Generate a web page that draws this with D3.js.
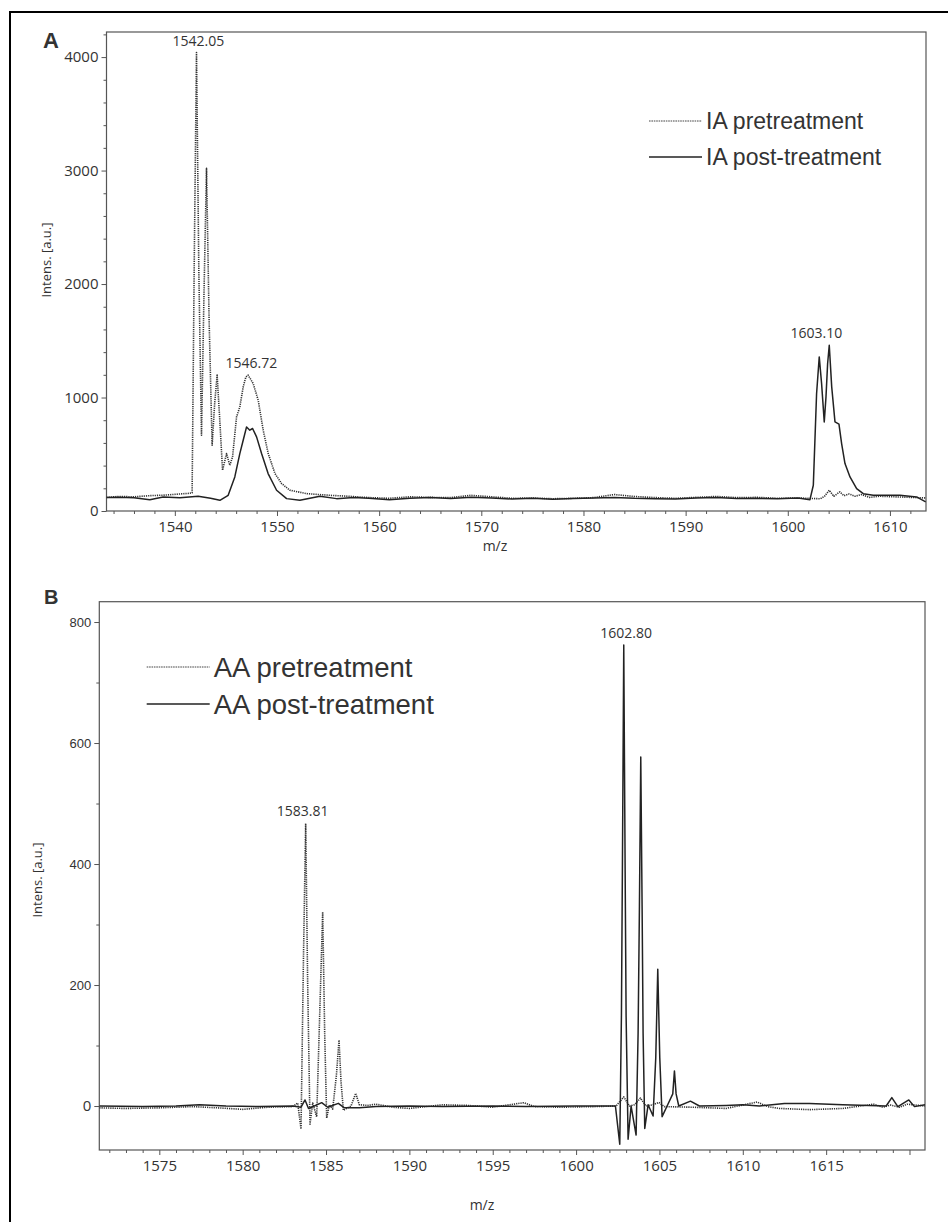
<!DOCTYPE html>
<html>
<head>
<meta charset="utf-8">
<script src="https://cdn.jsdelivr.net/npm/d3@7/dist/d3.min.js"></script>
<style>
  body { margin: 0; background: #fff; }
  svg text { font-family: "Open Sans", sans-serif; fill: #333; }
</style>
</head>
<body>
<svg id="chart" width="948" height="1222"></svg>
<script>
// ---- data, [m/z, intensity] ----
const iaPre = [
  [1533.3, 120], [1534.5, 128], [1536, 125], [1537.5, 135], [1539, 140], [1540.5, 150],
  [1541.3, 155], [1541.69, 160], [1541.9, 2200], [1542.12, 4040], [1542.35, 2100],
  [1542.61, 667], [1542.85, 1900], [1543.1, 3019], [1543.35, 1700], [1543.65, 579],
  [1543.9, 950], [1544.14, 1197], [1544.4, 800], [1544.67, 359], [1545.06, 506],
  [1545.38, 403], [1545.65, 476], [1546.04, 829], [1546.36, 917], [1546.69, 1093],
  [1546.95, 1180], [1547.18, 1197], [1547.67, 1123], [1548.16, 976], [1548.65, 712],
  [1549.14, 506], [1549.8, 330], [1550.45, 242], [1551.26, 183], [1552.9, 153],
  [1555.2, 138], [1557, 130], [1559, 118], [1561, 112], [1563, 125], [1565, 120],
  [1567, 118], [1569, 138], [1571, 125], [1573, 112], [1575, 115], [1577, 108],
  [1579, 112], [1581, 118], [1583, 145], [1585, 128], [1587, 118], [1589, 112],
  [1591, 120], [1593, 128], [1595, 118], [1597, 120], [1599, 112], [1601, 115],
  [1602.5, 110], [1603.2, 108], [1603.6, 130], [1604.06, 183], [1604.5, 130],
  [1605.1, 168], [1605.5, 135], [1606, 150], [1606.6, 130], [1607.2, 145], [1608, 120],
  [1609, 130], [1610.5, 125], [1612, 120], [1613.5, 115]
];

const iaPost = [
  [1533.3, 118], [1534.5, 122], [1536, 116], [1537.55, 100], [1538.85, 124], [1540.5, 116],
  [1542.28, 130], [1543.5, 112], [1544.41, 94], [1545.22, 138], [1545.87, 300],
  [1546.36, 506], [1546.69, 623], [1547.02, 741], [1547.34, 712], [1547.61, 727],
  [1548.0, 653], [1548.49, 506], [1549.13, 330], [1549.96, 183], [1550.94, 109],
  [1552.24, 94], [1554.2, 130], [1555.83, 109], [1557.5, 118], [1559, 112], [1561, 100],
  [1563, 112], [1565, 118], [1567, 110], [1569, 122], [1571, 115], [1573, 105],
  [1575, 112], [1577, 104], [1579, 110], [1581, 115], [1583, 120], [1585, 112],
  [1587, 108], [1589, 105], [1591, 115], [1593, 118], [1595, 110], [1597, 112],
  [1599, 108], [1601, 115], [1602.17, 100], [1602.5, 227], [1602.82, 1035],
  [1603.08, 1358], [1603.31, 1123], [1603.57, 785], [1603.74, 1006], [1603.9, 1300],
  [1604.06, 1461], [1604.3, 1094], [1604.62, 785], [1605.01, 765], [1605.27, 594],
  [1605.6, 418], [1606.09, 300], [1606.74, 198], [1607.39, 153], [1608.37, 138],
  [1609.68, 138], [1610.98, 138], [1612.61, 124], [1613.5, 80]
];

const aaPre = [
  [1571.4, -3], [1573, -4], [1575, -3], [1577, -1], [1578.5, -3], [1580, -5.5],
  [1581.5, -2], [1583, -1], [1583.3, 5], [1583.5, -38], [1583.65, 250], [1583.78, 467],
  [1583.9, 200], [1584.04, -30], [1584.2, 5], [1584.44, -18], [1584.62, 150],
  [1584.8, 321], [1584.92, 120], [1585.04, -20], [1585.2, 2], [1585.4, -5],
  [1585.62, 50], [1585.78, 109], [1585.9, 40], [1586.04, -7], [1586.5, 0],
  [1586.78, 21], [1587.0, 2], [1587.5, 1], [1588, 3], [1589, -2], [1590, -4],
  [1592, 2], [1593.5, 1], [1595, -2], [1596.86, 5.5], [1597.5, -1], [1599, -2],
  [1601, -1], [1602.4, 0], [1602.86, 15], [1603.2, 0], [1603.5, 2], [1603.86, 13],
  [1604.2, 0], [1604.6, 2], [1604.96, 6], [1605.3, -1], [1607, -2], [1609, -4],
  [1610.86, 6.6], [1611.5, -1], [1612.2, -4], [1614, -6], [1615, -5], [1616, -4],
  [1617.86, 3], [1618.4, -2], [1618.86, 1.5], [1619.4, -2], [1619.86, 3], [1620.93, 0]
];

const aaPost = [
  [1571.4, 0], [1574, -1], [1576, 0], [1577.4, 2], [1579, 0], [1581, -1], [1583, 0],
  [1583.5, -2], [1583.74, 10], [1583.95, -4], [1584.3, 0], [1584.74, 5.5],
  [1585.1, -2], [1585.74, 4.4], [1586.1, -3], [1587, -3], [1588, -1], [1590, 0],
  [1592, -1], [1595, 0], [1597, -1], [1600, 0], [1602.36, 0], [1602.62, -63],
  [1602.72, 150], [1602.78, 400], [1602.86, 762], [1602.94, 400], [1603.0, 150],
  [1603.12, -55], [1603.3, 0], [1603.6, -48], [1603.72, 120], [1603.8, 330],
  [1603.88, 577], [1603.96, 330], [1604.02, 120], [1604.12, -37], [1604.32, 2],
  [1604.62, -16.5], [1604.78, 80], [1604.9, 226], [1605.02, 80], [1605.16, -17.6],
  [1605.46, 0], [1605.8, 20], [1605.9, 58], [1606.0, 20], [1606.16, 0], [1606.86, 8],
  [1607.4, 0], [1609, 1], [1610, 2], [1611, 0], [1612.5, 4], [1614, 4], [1616, 2],
  [1618.6, 0], [1618.94, 14], [1619.3, -1], [1619.96, 10], [1620.3, -1], [1620.93, 2]
];

// axis ticks
const xMajorA = [1540, 1550, 1560, 1570, 1580, 1590, 1600, 1610];
const yMajorA = [0, 1000, 2000, 3000, 4000];
const xMajorB = [1575, 1580, 1585, 1590, 1595, 1600, 1605, 1610, 1615, 1620];
const yMajorB = [0, 200, 400, 600, 800];

// peak annotations
const peaksA = [
  { label: "1542.05", mz: 1542.3, value: 4040 },
  { label: "1546.72", mz: 1547.5, value: 1197 },
  { label: "1603.10", mz: 1602.8, value: 1461 }
];
const peaksB = [
  { label: "1583.81", mz: 1583.6, value: 467 },
  { label: "1602.80", mz: 1603.0, value: 762 }
];

const svg = d3.select("#chart");

// outer frame (right / bottom edges fall off the picture)
svg.append("rect")
  .attr("x", 10).attr("y", 12)
  .attr("width", 960).attr("height", 1240)
  .attr("fill", "none").attr("stroke", "#000").attr("stroke-width", 2);

const spectrumPanel = (selection, props) => {
  const { id, box, xDomain, yDomain, xMajor, xMinor, yMajor, yMinor,
    xHide, series, peaks, legend, letter, yTickFont, xLabelPos, yLabelPos } = props;

  const x = d3.scaleLinear().domain(xDomain).range([box.left, box.right]);
  const y = d3.scaleLinear().domain(yDomain).range([box.bottom, box.top]);

  const g = selection.append("g").attr("class", "panel-" + id);

  g.append("clipPath").attr("id", "clip-" + id)
    .append("rect")
    .attr("x", box.left).attr("y", box.top)
    .attr("width", box.right - box.left).attr("height", box.bottom - box.top);

  // minor ticks
  g.append("g")
    .attr("transform", `translate(0,${box.bottom})`)
    .call(d3.axisBottom(x).tickValues(xMinor).tickSize(3).tickFormat(""))
    .call((a) => a.select(".domain").remove());
  g.append("g")
    .attr("transform", `translate(${box.left},0)`)
    .call(d3.axisLeft(y).tickValues(yMinor).tickSize(3).tickFormat(""))
    .call((a) => a.select(".domain").remove());

  // major ticks
  const xAxisG = g.append("g")
    .attr("transform", `translate(0,${box.bottom})`)
    .call(d3.axisBottom(x).tickValues(xMajor).tickSize(5).tickPadding(5)
      .tickFormat((d) => (xHide.includes(d) ? "" : d3.format("d")(d))));
  xAxisG.select(".domain").remove();
  xAxisG.selectAll("text").style("font-size", "15px").attr("fill", "#333");

  const yAxisG = g.append("g")
    .attr("transform", `translate(${box.left},0)`)
    .call(d3.axisLeft(y).tickValues(yMajor).tickSize(5).tickPadding(3)
      .tickFormat(d3.format("d")));
  yAxisG.select(".domain").remove();
  yAxisG.selectAll("text")
    .style("font-size", (d) => (d === 0 ? "15px" : yTickFont.size))
    .style("font-family", (d) => (d === 0 ? "Open Sans" : yTickFont.family))
    .attr("fill", "#333");

  g.selectAll(".tick line").attr("stroke", "#555");

  // frame
  g.append("rect")
    .attr("x", box.left).attr("y", box.top)
    .attr("width", box.right - box.left).attr("height", box.bottom - box.top)
    .attr("fill", "none").attr("stroke", "#555").attr("stroke-width", 1.2);

  // spectra
  const line = d3.line().x((d) => x(d[0])).y((d) => y(d[1]));
  g.append("g").attr("clip-path", `url(#clip-${id})`)
    .selectAll("path")
    .data(series)
    .enter()
    .append("path")
    .attr("d", (s) => line(s.values))
    .attr("fill", "none")
    .attr("stroke", (s) => (s.dashed ? "#333" : "#222"))
    .attr("stroke-width", (s) => (s.dashed ? 1.6 : 1.5))
    .attr("stroke-dasharray", (s) => (s.dashed ? "1.2,1" : null))
    .attr("stroke-linejoin", "round");

  // peak labels
  g.selectAll(".peak")
    .data(peaks)
    .enter()
    .append("text")
    .attr("class", "peak")
    .attr("x", (d) => x(d.mz))
    .attr("y", (d) => y(d.value) - 7)
    .attr("text-anchor", "middle")
    .style("font-size", "14px")
    .text((d) => d.label);

  // axis titles
  g.append("text")
    .attr("x", xLabelPos[0]).attr("y", xLabelPos[1])
    .attr("text-anchor", "middle")
    .style("font-size", "14px")
    .text("m/z");
  g.append("text")
    .attr("transform", `translate(${yLabelPos[0]},${yLabelPos[1]}) rotate(-90)`)
    .attr("text-anchor", "middle")
    .style("font-size", "13px")
    .text("Intens. [a.u.]");

  // legend
  const lg = g.append("g");
  legend.items.forEach((item, i) => {
    const ly = legend.y + i * legend.step;
    lg.append("line")
      .attr("x1", legend.x).attr("x2", legend.x + legend.len)
      .attr("y1", ly).attr("y2", ly)
      .attr("stroke", item.dashed ? "#444" : "#222")
      .attr("stroke-width", item.dashed ? 1 : 1.3)
      .attr("stroke-dasharray", item.dashed ? "1.6,0.8" : null);
    lg.append("text")
      .attr("x", legend.x + legend.len + 4)
      .attr("y", ly)
      .attr("dy", "0.35em")
      .style("font-family", "'Liberation Sans', Arial, sans-serif")
      .style("font-size", legend.size)
      .attr("fill", "#111")
      .text(item.name);
  });

  // panel letter
  g.append("text")
    .attr("x", letter.x).attr("y", letter.y)
    .style("font-family", "'Liberation Sans', Arial, sans-serif")
    .style("font-weight", "bold")
    .style("font-size", letter.size)
    .attr("fill", "#000")
    .text(letter.text);
};

// minor tick lists
const xMinorA = d3.range(1534, 1614, 2).filter((v) => v % 10 !== 0);
const yMinorA = d3.range(200, 4201, 200).filter((v) => v % 1000 !== 0);
const xMinorB = d3.range(1572, 1621, 1).filter((v) => v % 5 !== 0);
const yMinorB = [100, 300, 500, 700];

svg.call(spectrumPanel, {
  id: "A",
  box: { left: 106.5, right: 926, top: 32, bottom: 511 },
  xDomain: [1533.31, 1613.53],
  yDomain: [0, 4221],
  xMajor: xMajorA, xMinor: xMinorA, yMajor: yMajorA, yMinor: yMinorA,
  xHide: [],
  yTickFont: { size: "15px", family: "Open Sans" },
  series: [
    { name: "IA pretreatment", values: iaPre, dashed: true },
    { name: "IA post-treatment", values: iaPost, dashed: false }
  ],
  peaks: peaksA,
  legend: {
    x: 649, y: 121, step: 36, len: 53, size: "23px",
    items: [
      { name: "IA pretreatment", dashed: true },
      { name: "IA post-treatment", dashed: false }
    ]
  },
  letter: { text: "A", x: 43, y: 48, size: "22px" },
  xLabelPos: [495, 551],
  yLabelPos: [51, 260]
});

svg.call(spectrumPanel, {
  id: "B",
  box: { left: 99.3, right: 925, top: 601.7, bottom: 1150 },
  xDomain: [1571.4, 1620.93],
  yDomain: [-72.7, 833.6],
  xMajor: xMajorB, xMinor: xMinorB, yMajor: yMajorB, yMinor: yMinorB,
  xHide: [1620],
  yTickFont: { size: "13px", family: "'Liberation Sans', Arial, sans-serif" },
  series: [
    { name: "AA pretreatment", values: aaPre, dashed: true },
    { name: "AA post-treatment", values: aaPost, dashed: false }
  ],
  peaks: peaksB,
  legend: {
    x: 146.7, y: 667, step: 37, len: 63, size: "27.5px",
    items: [
      { name: "AA pretreatment", dashed: true },
      { name: "AA post-treatment", dashed: false }
    ]
  },
  letter: { text: "B", x: 44, y: 604, size: "20px" },
  xLabelPos: [482, 1210],
  yLabelPos: [42, 880]
});
</script>
</body>
</html>
